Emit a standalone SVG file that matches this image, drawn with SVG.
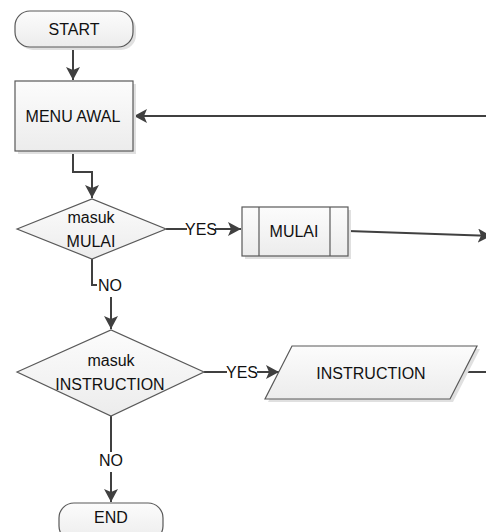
<svg xmlns="http://www.w3.org/2000/svg" width="486" height="532" viewBox="0 0 486 532">
<defs>
<linearGradient id="fill" x1="0" y1="0" x2="0" y2="1">
<stop offset="0" stop-color="#fcfcfc"/>
<stop offset="1" stop-color="#ececec"/>
</linearGradient>
<marker id="arr" markerUnits="userSpaceOnUse" markerWidth="14" markerHeight="14" viewBox="0 0 14 14" refX="13" refY="7" orient="auto">
<path d="M0,0 L13,7 L0,14 L3,7 Z" fill="#404040"/>
</marker>
</defs>
<style>
.shape{fill:url(#fill);stroke:#595959;stroke-width:1.2}
.shadow{fill:#e0e0e0}
.line{fill:none;stroke:#404040;stroke-width:2}
text{font-family:"Liberation Sans",Arial,sans-serif;font-size:16px;fill:#111111;text-anchor:middle}
</style>
<rect width="486" height="532" fill="#ffffff"/>

<g id="connectors">
<path class="line" d="M73,48 V80" marker-end="url(#arr)"/>
<path class="line" d="M486,116 H134" marker-end="url(#arr)"/>
<path class="line" d="M73,151 V172 H92 V198" marker-end="url(#arr)"/>
<path class="line" d="M166,229 H187"/>
<path class="line" d="M215,229 H241" marker-end="url(#arr)"/>
<path class="line" d="M92,259 V285 H97"/>
<path class="line" d="M111,297 V329" marker-end="url(#arr)"/>
<path class="line" d="M348,231 L491,236" marker-end="url(#arr)"/>
<path class="line" d="M204,372 H227"/>
<path class="line" d="M257,372 H279" marker-end="url(#arr)"/>
<path class="line" d="M464,372 H486"/>
<path class="line" d="M111,416 V452"/>
<path class="line" d="M111,472 V502" marker-end="url(#arr)"/>
<text x="201" y="235">YES</text>
<text x="110" y="291">NO</text>
<text x="242" y="378">YES</text>
<text x="111" y="466">NO</text>
</g>

<g id="start">
<rect class="shadow" x="18" y="14" width="118" height="36" rx="15"/>
<rect class="shape" x="15" y="11" width="118" height="36" rx="15"/>
<text x="74" y="35">START</text>
</g>

<g id="menu-awal">
<rect class="shadow" x="18" y="84" width="118" height="70"/>
<rect class="shape" x="15" y="81" width="118" height="70"/>
<text x="73" y="122">MENU AWAL</text>
</g>

<g id="masuk-mulai">
<polygon class="shape" points="17,229 92,199 166,229 92,259"/>
<text x="91" y="223">masuk</text>
<text x="91" y="247">MULAI</text>
</g>

<g id="mulai">
<rect class="shadow" x="245" y="210" width="106" height="49"/>
<rect class="shape" x="242" y="207" width="106" height="49"/>
<line x1="259" y1="207" x2="259" y2="256" stroke="#595959" stroke-width="1.2"/>
<line x1="330" y1="207" x2="330" y2="256" stroke="#595959" stroke-width="1.2"/>
<text x="294" y="237">MULAI</text>
</g>

<g id="masuk-instruction">
<polygon class="shape" points="17,372 111,330 204,372 111,416"/>
<text x="111" y="366">masuk</text>
<text x="110" y="390">INSTRUCTION</text>
</g>

<g id="instruction">
<polygon class="shadow" points="295,349 480,349 453,402 268,402"/>
<polygon class="shape" points="292,346 477,346 450,399 265,399"/>
<text x="371" y="379">INSTRUCTION</text>
</g>

<g id="end">
<rect class="shape" x="59" y="503" width="104" height="38" rx="15"/>
<text x="111" y="523">END</text>
</g>
</svg>
